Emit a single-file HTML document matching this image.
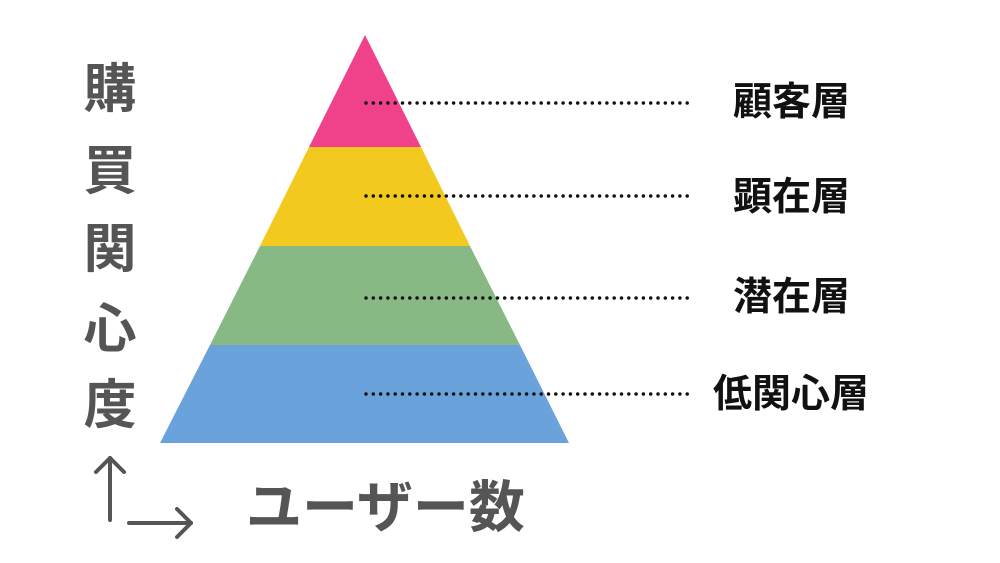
<!DOCTYPE html>
<html><head><meta charset="utf-8"><style>
body{margin:0;width:1000px;height:563px;background:#fff;overflow:hidden;position:relative;font-family:"Liberation Sans","Noto Sans CJK JP",sans-serif}
.v{position:absolute;left:80px;width:60px;text-align:center;font-size:53px;font-weight:bold;color:#555;line-height:1}
.l{position:absolute;font-size:39px;font-weight:bold;color:#111;line-height:1}
</style></head><body>
<svg width="1000" height="563" style="position:absolute;left:0;top:0">
<polygon points="365,35 421,147 309,147" fill="#f0428b"/>
<polygon points="309,147 421,147 470,246 260,246" fill="#f3c81f"/>
<polygon points="260,246 470,246 520,345 210,345" fill="#88b884"/>
<polygon points="210,345 520,345 569,443 160,443" fill="#6aa3dc"/>
<g stroke="#111" stroke-width="3.5" stroke-linecap="round" stroke-dasharray="0 7.3">
<line x1="366" y1="103" x2="690" y2="103"/>
<line x1="366" y1="196" x2="690" y2="196"/>
<line x1="366" y1="298" x2="690" y2="298"/>
<line x1="366" y1="394" x2="690" y2="394"/>
</g>
<g stroke="#555" stroke-width="4" stroke-linecap="round" stroke-linejoin="round" fill="none">
<line x1="110" y1="458" x2="110" y2="520"/><polyline points="96,472 110,458 124,472"/>
<line x1="129" y1="523" x2="191" y2="523"/><polyline points="177,509 191,523 177,537"/>
</g>
</svg>
<div class="v" style="top:63px">購</div>
<div class="v" style="top:145px">買</div>
<div class="v" style="top:223px">関</div>
<div class="v" style="top:303px">心</div>
<div class="v" style="top:379px">度</div>
<div class="l" style="left:733px;top:83px">顧客層</div>
<div class="l" style="left:733px;top:178px">顕在層</div>
<div class="l" style="left:733px;top:278px">潜在層</div>
<div class="l" style="left:713px;top:375px">低関心層</div>
<div style="position:absolute;left:246px;top:480px;font-size:56px;font-weight:bold;color:#555;line-height:1;white-space:nowrap">ユーザー数</div>
</body></html>
